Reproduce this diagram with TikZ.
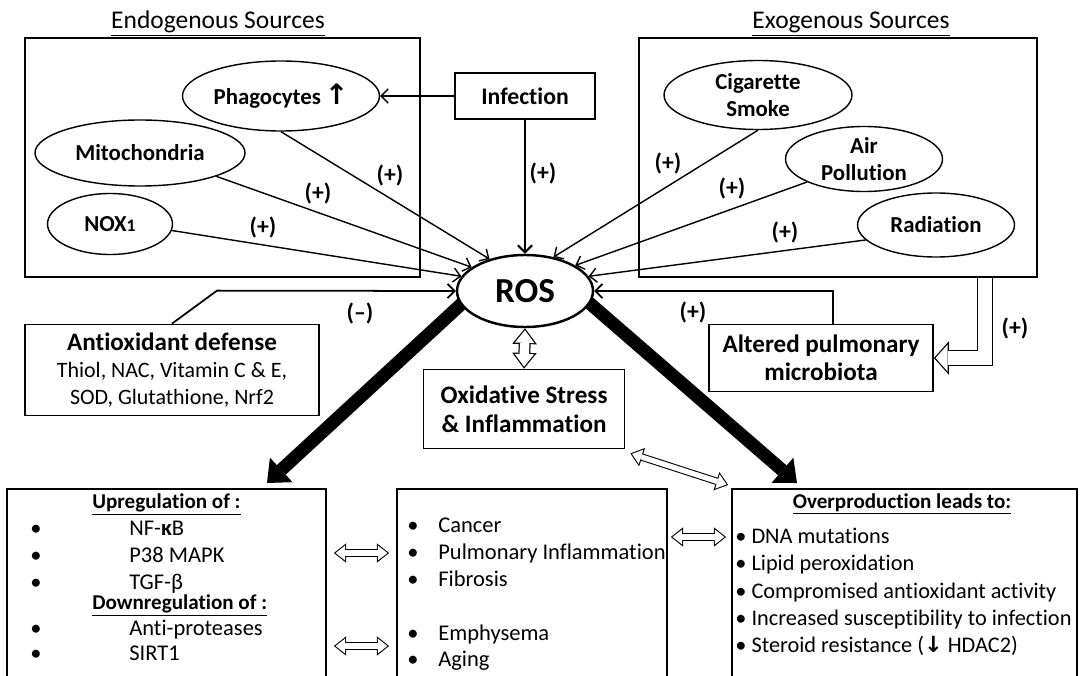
\documentclass[tikz,border=0pt]{standalone}
\usepackage{fontspec}
\setmainfont{Carlito}[Ligatures={NoCommon}]
\newfontfamily\arrowfont{DejaVu Sans}
\usetikzlibrary{arrows.meta,calc,positioning,shapes.geometric,backgrounds}

\tikzset{
  srcframe/.style={draw, line width=0.9pt, minimum width=7.9cm, minimum height=4.78cm},
  heading/.style={font=\fontsize{14.5}{16}\selectfont, inner sep=0pt, anchor=base},
  oval/.style={ellipse, draw, fill=white, line width=0.8pt, align=center, inner sep=0pt,
    font=\bfseries\fontsize{13}{15.3}\selectfont},
  labelbox/.style={draw, line width=1pt, align=center, inner sep=0pt},
  panel/.style={draw, line width=1pt, anchor=north, minimum height=4.6cm},
  tag/.style={font=\bfseries\fontsize{13.5}{15}\selectfont, inner sep=0pt},
  entry/.style={font=\fontsize{12.8}{15}\selectfont, inner sep=0pt, anchor=base west},
  subhead/.style={font=\bfseries\fontsize{12}{14}\selectfont, inner sep=0pt},
  feed/.style={line width=0.8pt, -{Straight Barb[length=4pt,width=8pt]}},
  bigarrow/.style={line width=7.4pt, -{Triangle[length=11pt,width=19pt,line width=0pt]}},
  % hollow arrows: black body, white core on top
  hollowbig/.style={line width=9pt, line join=miter,
    -{Triangle[length=8.5pt,width=19pt,line width=0pt]},
    postaction={draw=white, line width=7.6pt, shorten >=0.94pt,
      -{Triangle[length=6.86pt,width=15.3pt,line width=0pt]}}},
  hollowmid/.style={line width=6.8pt,
    {Triangle[length=9pt,width=14pt,line width=0pt]}-{Triangle[length=9pt,width=14pt,line width=0pt]},
    postaction={draw=white, line width=5.4pt, shorten >=1.14pt, shorten <=1.14pt,
      {Triangle[length=7.16pt,width=11.1pt,line width=0pt]}-{Triangle[length=7.16pt,width=11.1pt,line width=0pt]}}},
  hollowsmall/.style={line width=4.2pt,
    {Triangle[length=7pt,width=11pt,line width=0pt]}-{Triangle[length=7pt,width=11pt,line width=0pt]},
    postaction={draw=white, line width=3pt, shorten >=0.97pt, shorten <=0.97pt,
      {Triangle[length=5.43pt,width=8.5pt,line width=0pt]}-{Triangle[length=5.43pt,width=8.5pt,line width=0pt]}}}
}

\begin{document}
\begin{tikzpicture}[font=\fontsize{13}{15}\selectfont]
   \useasboundingbox (0,0) rectangle (21.66,13.5);

   % source frames
   \node[srcframe] (endo) at (4.45,10.35) {};
   \node[srcframe, minimum width=7.96cm] (exo) at (16.76,10.35) {};
   \node[heading] (endotitle) at (4.36,12.93) {\underline{Endogenous Sources}};
   \node[heading] (exotitle) at (17.02,12.93) {\underline{Exogenous Sources}};

   % endogenous
   \node[oval, minimum width=3.94cm, minimum height=1.4cm] (phago) at (5.62,11.58)
     {Phagocytes\,{\arrowfont\bfseries\fontsize{16}{16}\selectfont ↑}};
   \node[oval, minimum width=4.2cm, minimum height=1.32cm] (mito) at (2.8,10.44) {Mitochondria};
   \node[oval, minimum width=2.5cm, minimum height=1.22cm] (nox) at (2.2,9.02) {NOX{\fontsize{10}{12}\selectfont 1}};
   \node[labelbox, line width=0.9pt, minimum width=2.8cm, minimum height=0.92cm,
     font=\bfseries\fontsize{13.5}{15}\selectfont] (infect) at (10.5,11.58) {Infection};

   % exogenous
   \node[oval, minimum width=3.76cm, minimum height=1.38cm] (smoke) at (15.16,11.6) {Cigarette\\Smoke};
   \node[oval, minimum width=3.14cm, minimum height=1.3cm] (air) at (17.28,10.32) {Air\\Pollution};
   \node[oval, minimum width=3.14cm, minimum height=1.28cm] (rad) at (18.72,9.0) {Radiation};

   % centre
   \node[oval, line width=1.4pt, minimum width=2.72cm, minimum height=1.44cm,
     font=\bfseries\fontsize{20}{22}\selectfont] (ROS) at (10.5,7.68) {ROS};
   \node[labelbox, minimum width=5.88cm, minimum height=1.82cm, font=\fontsize{12.5}{15.3}\selectfont] (antiox) at (3.44,6.1)
     {{\bfseries\fontsize{14.3}{16}\selectfont Antioxidant defense}\\Thiol, NAC, Vitamin C \& E,\\SOD, Glutathione, Nrf2};
   \node[labelbox, minimum width=4.48cm, minimum height=1.34cm,
     font=\bfseries\fontsize{14.3}{16.2}\selectfont] (micro) at (16.42,6.34) {Altered pulmonary\\microbiota};
   \node[labelbox, minimum width=4.02cm, minimum height=1.58cm,
     font=\bfseries\fontsize{14.3}{16.4}\selectfont] (ox) at (10.48,5.32) {Oxidative Stress\\\& Inflammation};

   % bottom panels
   \node[panel, minimum width=6.38cm] (upreg) at (3.33,3.74) {};
   \node[panel, minimum width=5.4cm] (disease) at (10.64,3.74) {};
   \node[panel, minimum width=6.9cm] (overprod) at (18.09,3.74) {};

   % sources into ROS
   \draw[feed] (phago.south) -- (ROS.138);
   \draw[feed] (mito.-17) -- (ROS.156);
   \draw[feed] (nox.-6) -- (ROS.167);
   \draw[feed] (smoke.south) -- (ROS.50);
   \draw[feed] (air.202) -- (ROS.27);
   \draw[feed] (rad.192) -- (ROS.13);
   \draw[feed] (infect.west) -- (phago.east);
   \draw[feed, line width=1.2pt] (infect.south) -- (ROS.north);
   \draw[feed, line width=1pt] (antiox.north) -- ++(0.9,0.66) -- (ROS.west);
   \draw[feed, line width=1pt] ([xshift=0.24cm]micro.north) |- (ROS.east);

   \node[tag] (tphago) at (7.8,10.0) {(+)};
   \node[tag] (tmito) at (6.36,9.64) {(+)};
   \node[tag] (tnox) at (5.26,8.96) {(+)};
   \node[tag] (tinfect) at (10.86,10.04) {(+)};
   \node[tag] (tsmoke) at (13.36,10.24) {(+)};
   \node[tag] (tair) at (14.64,9.74) {(+)};
   \node[tag] (trad) at (15.7,8.86) {(+)};
   \node[tag] (tanti) at (7.2,7.24) {(–)};
   \node[tag] (tmicro) at (13.86,7.26) {(+)};
   \node[tag] (texo) at (20.3,6.94) {(+)};

   % ROS outcomes
   \coordinate (uptip) at (5.34,3.84);
   \coordinate (overtip) at (15.94,3.84);
   \begin{scope}[on background layer]
      \draw[bigarrow] ($(ROS.192)!-0.3cm!(uptip)$) -- (uptip);
      \draw[bigarrow] ($(ROS.349)!-0.3cm!(overtip)$) -- (overtip);
   \end{scope}

   % hollow links
   \draw[hollowbig] ([xshift=2.94cm]exo.south) |- (micro.east);
   \draw[hollowmid] (ROS.south) -- (ox.north);
   \draw[hollowsmall] ([shift={(0.1,-0.08)}]ox.south east) -- ([shift={(-0.06,0.06)}]overprod.north west);
   \draw[hollowsmall] ($(upreg.east |- 0,2.44)+(0.14,0)$) -- ($(disease.west |- 0,2.44)+(-0.14,0)$);
   \draw[hollowsmall] ($(upreg.east |- 0,0.58)+(0.14,0)$) -- ($(disease.west |- 0,0.58)+(-0.14,0)$);
   \draw[hollowsmall] ($(disease.east |- 0,2.76)+(0.06,0)$) -- ($(overprod.west |- 0,2.76)+(-0.1,0)$);

   % panel texts
   \node[subhead, anchor=base west] (uphead) at (1.84,3.34) {\underline{Upregulation of :}};
   \node[subhead, anchor=base west] (downhead) at (1.84,1.32) {\underline{Downregulation of :}};
   \foreach \y/\txt [count=\i] in {2.8/{NF-\textbf{κ}B}, 2.25/P38 MAPK, 1.72/TGF-β, 0.8/Anti-proteases, 0.3/SIRT1}{
      \node[entry] (upbul\i) at (0.6,\y) {\textbullet};
      \node[entry] (upitem\i) at (2.58,\y) {\txt};
   }
   \foreach \y/\txt [count=\i] in {2.85/Cancer, 2.31/Pulmonary Inflammation, 1.78/Fibrosis, 0.7/Emphysema, 0.17/Aging}{
      \node[entry] (disbul\i) at (8.14,\y) {\textbullet};
      \node[entry] (disitem\i) at (8.76,\y) {\txt};
   }
   \node[subhead, anchor=base] (ovhead) at (18.04,3.34) {\underline{Overproduction leads to:}};
   \foreach \y/\txt [count=\i] in {2.63/DNA mutations, 2.09/Lipid peroxidation, 1.54/Compromised antioxidant activity,
      0.99/Increased susceptibility to infection, 0.45/{Steroid resistance ({\arrowfont\bfseries ↓} HDAC2)}}{
      \node[entry, font=\fontsize{12.7}{15}\selectfont] (ovitem\i) at (14.7,\y) {\textbullet\ \txt};
   }

\end{tikzpicture}
\end{document}
